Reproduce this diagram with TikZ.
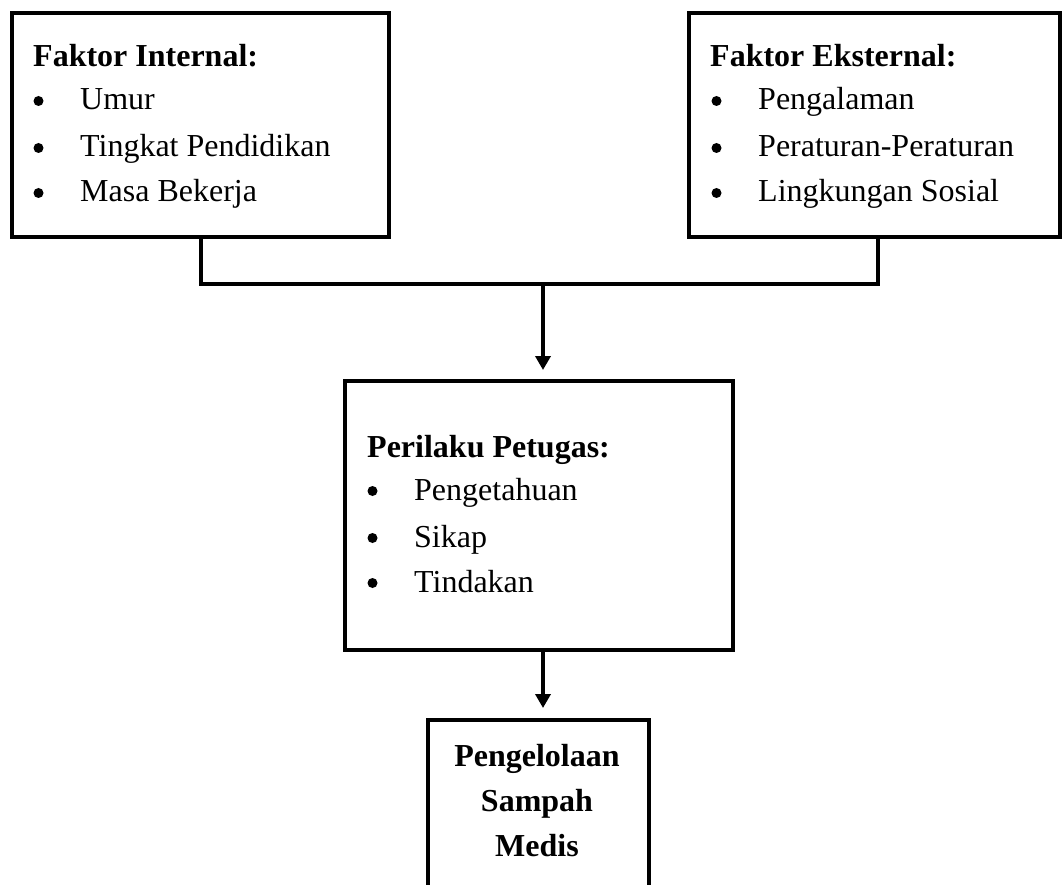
\documentclass[tikz,border=0pt]{standalone}
\usepackage{fontspec}
\setmainfont{Liberation Serif}
\usetikzlibrary{arrows.meta}
\newcommand\bitem[1]{\hspace*{47pt}#1}
\tikzset{
  box/.style={draw=black, line width=4pt, fill=none, inner sep=0pt},
  txt/.style={anchor=base west, inner sep=0pt, font=\fontsize{32}{45}\selectfont},
  ctxt/.style={anchor=base, inner sep=0pt, font=\fontsize{32}{45}\selectfont\bfseries},
  conn/.style={line width=4pt},
  arr/.style={line width=4pt, -{Triangle[length=14pt,width=15pt]}},
  dot/.style={fill=black}
}
\begin{document}
\begin{tikzpicture}[x=1pt,y=-1pt]
\useasboundingbox (0,0) rectangle (1062,885);
\clip (0,0) rectangle (1062,885);
% boxes
\node[box, minimum width=377pt, minimum height=224pt] (int) at (200.5,125) {};
\node[box, minimum width=371pt, minimum height=224pt] (ext) at (874.5,125) {};
\node[box, minimum width=388pt, minimum height=269pt] (mid) at (539,515.5) {};
\node[box, minimum width=221pt, minimum height=190pt] (bot) at (538.5,815) {};
% internal texts
\node[txt] (i0) at (33,67) {\textbf{Faktor Internal:}};
\node[txt] (i1) at (33,110) {\bitem{Umur}};
\node[txt] (i2) at (33,157) {\bitem{Tingkat Pendidikan}};
\node[txt] (i3) at (33,202) {\bitem{Masa Bekerja}};
% external texts
\node[txt] (e0) at (710,67) {\textbf{Faktor Eksternal:}};
\node[txt] (e1) at (711,110) {\bitem{Pengalaman}};
\node[txt] (e2) at (711,157) {\bitem{Peraturan-Peraturan}};
\node[txt] (e3) at (711,202) {\bitem{Lingkungan Sosial}};
% middle texts
\node[txt] (m0) at (367,457) {\textbf{Perilaku Petugas:}};
\node[txt] (m1) at (367,500) {\bitem{Pengetahuan}};
\node[txt] (m2) at (367,547) {\bitem{Sikap}};
\node[txt] (m3) at (367,592) {\bitem{Tindakan}};
% bullets
\foreach \n in {i1,i2,i3,e1,e2,e3,m1,m2,m3}
  \fill[dot] ([xshift=5.5pt,yshift=9pt]\n.base west) circle (5pt);
% bottom texts
\node[ctxt] (b1) at (537,766) {Pengelolaan};
\node[ctxt] (b2) at (537,811) {Sampah};
\node[ctxt] (b3) at (537,856) {Medis};
% connectors
\coordinate (j) at (543,284);
\coordinate (es) at ([xshift=3.5pt]ext.south);
\draw[conn] (int.south) |- (j) -| (es);
\draw[arr, shorten >=9pt] (j) -- (j |- mid.north);
\draw[arr, shorten >=10pt] (j |- mid.south) -- (j |- bot.north);
\end{tikzpicture}
\end{document}
